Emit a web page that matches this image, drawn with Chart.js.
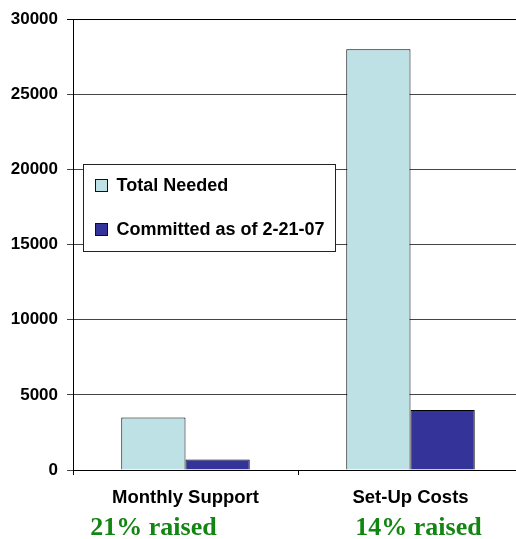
<!DOCTYPE html>
<html>
<head>
<meta charset="utf-8">
<script src="https://cdn.jsdelivr.net/npm/chart.js@4.4.0/dist/chart.umd.min.js"></script>
<style>
html, body { margin: 0; padding: 0; overflow: hidden; background: #fff; }
#wrap { position: absolute; left: 0; top: 0; width: 523px; height: 539px; }
</style>
</head>
<body>
<div id="wrap"><canvas id="c" width="523" height="539"></canvas></div>
<script>
const categories = ['Monthly Support', 'Set-Up Costs'];
const totalNeeded = [3500, 28000];
const committed = [700, 4000];
const seriesNames = ['Total Needed', 'Committed as of 2-21-07'];
const raisedLabels = ['21% raised', '14% raised'];
const yTickValues = [0, 5000, 10000, 15000, 20000, 25000, 30000];

const AXIS_FONT = 'Liberation Sans, Arial, Helvetica, sans-serif';

const legendPlugin = {
  id: 'boxLegend',
  afterDraw(chart) {
    const ctx = chart.ctx;
    const a = chart.chartArea;
    const bx = Math.round(a.left + 10) + 0.5, by = Math.round(a.top + 145) + 0.5, bw = 252, bh = 87;
    ctx.save();
    ctx.fillStyle = '#fff';
    ctx.fillRect(bx, by, bw, bh);
    ctx.strokeStyle = '#222';
    ctx.lineWidth = 1;
    ctx.strokeRect(bx, by, bw, bh);
    const rows = [by + 21, by + 65];
    chart.data.datasets.forEach((ds, i) => {
      const cy = rows[i];
      ctx.fillStyle = ds.backgroundColor;
      ctx.fillRect(bx + 12, cy - 6, 12, 12);
      ctx.strokeStyle = '#111';
      ctx.strokeRect(bx + 12, cy - 6, 12, 12);
      ctx.fillStyle = '#000';
      ctx.font = 'bold 18px ' + AXIS_FONT;
      ctx.textBaseline = 'middle';
      ctx.textAlign = 'left';
      ctx.fillText(ds.label, bx + 33, cy + 1);
    });
    ctx.restore();
  }
};

const raisedPlugin = {
  id: 'raised',
  afterDraw(chart) {
    const ctx = chart.ctx;
    const xs = chart.scales.x;
    const offs = [-32, 8];
    ctx.save();
    ctx.fillStyle = '#138513';
    ctx.font = 'bold 26px "Liberation Serif", "Times New Roman", serif';
    ctx.textAlign = 'center';
    ctx.textBaseline = 'alphabetic';
    raisedLabels.forEach((t, i) => {
      ctx.fillText(t, xs.getPixelForValue(i) + offs[i], 535);
    });
    ctx.restore();
  }
};

new Chart(document.getElementById('c'), {
  type: 'bar',
  data: {
    labels: categories,
    datasets: [
      { label: seriesNames[0], data: totalNeeded, backgroundColor: '#bde1e4', borderColor: '#000', borderWidth: 1, borderSkipped: 'bottom' },
      { label: seriesNames[1], data: committed, backgroundColor: '#333399', borderColor: '#000', borderWidth: 1, borderSkipped: 'bottom' }
    ]
  },
  options: {
    responsive: false,
    animation: false,
    layout: { padding: { top: 15, left: 0, right: 0, bottom: 0 } },
    datasets: { bar: { categoryPercentage: 0.571, barPercentage: 1.0 } },
    plugins: { legend: { display: false }, tooltip: { enabled: false } },
    scales: {
      x: {
        grid: { display: true, drawOnChartArea: false, drawTicks: true, tickLength: 5, color: '#000', offset: true },
        border: { display: true, color: '#000', width: 1 },
        ticks: { color: '#000', font: { family: AXIS_FONT, size: 18.5, weight: 'bold' }, padding: 12, maxRotation: 0 },
        afterFit(s) { s.height = 69; }
      },
      y: {
        min: 0, max: 30000,
        afterBuildTicks(s) { s.ticks = yTickValues.map(v => ({ value: v })); },
        grid: { color: (c) => (c.tick && c.tick.value === 30000) ? '#000' : '#444', tickLength: 6, drawTicks: true },
        border: { display: true, color: '#000', width: 1 },
        ticks: { color: '#000', font: { family: AXIS_FONT, size: 17, weight: 'bold' }, padding: 9, callback: (v) => String(v) },
        afterFit(s) { s.width = 73; }
      }
    }
  },
  plugins: [legendPlugin, raisedPlugin]
});
</script>
</body>
</html>
